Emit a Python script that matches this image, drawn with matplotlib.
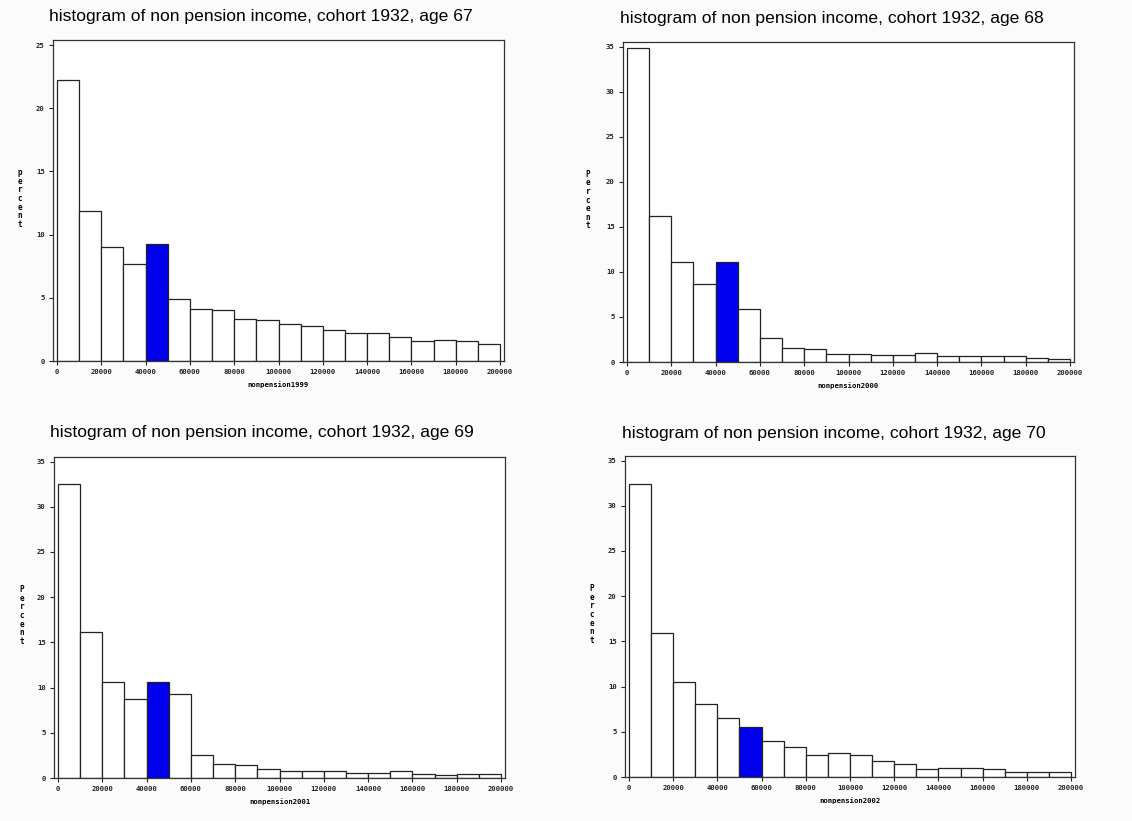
import matplotlib.pyplot as plt
import numpy as np

# bin edges: 10000-wide bins from 0 to 200000
edges = np.arange(0, 200001, 10000)

ages = [67, 68, 69, 70]
xlabels = ['nonpension1999', 'nonpension2000', 'nonpension2001', 'nonpension2002']
ylabels = ['percent', 'Percent', 'Percent', 'Percent']

pct67 = [22.2, 11.85, 9.0, 7.64, 9.22, 4.93, 4.14, 4.0, 3.35, 3.27,
         2.9, 2.79, 2.48, 2.24, 2.24, 1.9, 1.58, 1.69, 1.58, 1.37]
pct68 = [34.8, 16.2, 11.09, 8.65, 11.05, 5.88, 2.7, 1.59, 1.4, 0.92,
         0.92, 0.78, 0.78, 0.96, 0.63, 0.63, 0.63, 0.63, 0.44, 0.33]
pct69 = [32.5, 16.2, 10.67, 8.79, 10.67, 9.27, 2.51, 1.59, 1.4, 0.96,
         0.74, 0.74, 0.74, 0.59, 0.59, 0.74, 0.44, 0.3, 0.48, 0.48]
pct70 = [32.45, 15.93, 10.5, 8.09, 6.58, 5.58, 3.99, 3.36, 2.4, 2.62,
         2.4, 1.81, 1.48, 0.85, 1.0, 1.0, 0.85, 0.55, 0.55, 0.55]
percents = [pct67, pct68, pct69, pct70]
highlight = [4, 4, 4, 5]   # index of the blue bin
ymax = [25, 35, 35, 35]

W, H = 1132, 821
fig = plt.figure(figsize=(W / 100, H / 100), dpi=100)
fig.patch.set_facecolor('#fafbfa')

# axes boxes in pixels: left, top, right, bottom
boxes = [(53, 40, 504, 361), (623, 42, 1074, 362),
         (54, 457, 505, 778), (625, 456, 1075, 777)]
titles_xy = [(261, 17), (832, 18), (262, 432), (834, 433)]
ylab_x = [20, 588, 22, 592]

for k in range(4):
    l, t, r, b = boxes[k]
    ax = fig.add_axes([l / W, 1 - b / H, (r - l) / W, (b - t) / H])
    ax.set_facecolor('white')
    vals = percents[k]
    colors = ['white'] * len(vals)
    colors[highlight[k]] = '#0000ee'
    ax.bar(edges[:-1], vals, width=10000, align='edge', color=colors,
           edgecolor='#222222', linewidth=0.9)
    ax.set_xlim(-1800, 201800)
    ax.set_ylim(0, ymax[k] + 0.4 if k == 0 else ymax[k] + 0.5)
    ax.set_xticks(np.arange(0, 200001, 20000))
    ax.set_yticks(np.arange(0, ymax[k] + 1, 5))
    for s in ax.spines.values():
        s.set_linewidth(0.9)
        s.set_color('#333333')
    ax.tick_params(direction='out', length=3, width=0.8, labelsize=5.2,
                   pad=3, colors='#222222')
    for lab in ax.get_xticklabels() + ax.get_yticklabels():
        lab.set_fontfamily('DejaVu Sans Mono')
        lab.set_fontweight('bold')
    ax.set_xlabel(xlabels[k], fontsize=5.2, fontfamily='DejaVu Sans Mono',
                  fontweight='bold', labelpad=4)
    tx, ty = titles_xy[k]
    fig.text(tx / W, 1 - ty / H,
             f'histogram of non pension income, cohort 1932, age {ages[k]}',
             ha='center', va='center', fontsize=12.6, family='Liberation Sans')
    # stacked vertical y label
    cy = (t + b) / 2 - 2
    fig.text(ylab_x[k] / W, 1 - cy / H, '\n'.join(ylabels[k]), ha='center',
             va='center', fontsize=5.5, fontfamily='DejaVu Sans Mono',
             fontweight='bold', linespacing=0.95)

fig.savefig('out.png', dpi=100, facecolor=fig.get_facecolor())
